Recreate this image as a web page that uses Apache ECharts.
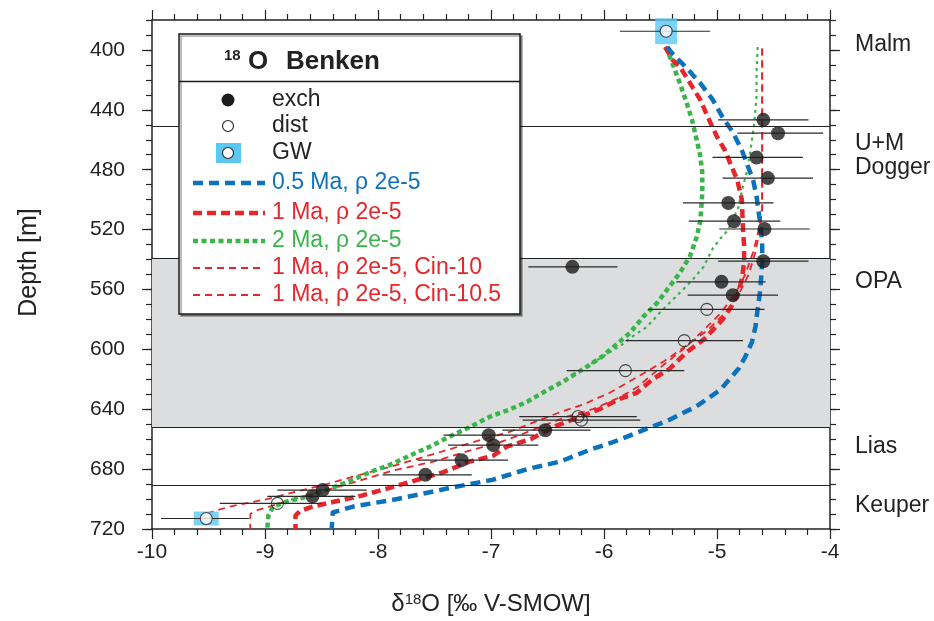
<!DOCTYPE html>
<html>
<head>
<meta charset="utf-8">
<script src="https://cdn.jsdelivr.net/npm/echarts@6/dist/echarts.min.js"></script>
<style>
html,body{margin:0;padding:0;background:#fff;}
#chart{width:934px;height:621px;}
</style>
</head>
<body>
<div id="chart"></div>
<script>
// ---------- DATA ----------
const xTickValues = [-10, -9, -8, -7, -6, -5, -4];
const depthLabelValues = [400, 440, 480, 520, 560, 600, 640, 680, 720];
const formationDepths = [396.7, 470.7, 554.7, 665.3, 704.7];
const formationNames = ['Malm', 'U+M\nDogger', 'OPA', 'Lias', 'Keuper'];
const boundaryDepths = [451, 539, 652, 691];
const opaTop = 539, opaBottom = 652;

// exchange water points
const exchD18O = [-4.59,-4.46,-4.65,-4.55,-4.90,-4.85,-4.58,-4.59,-6.28,-4.96,-4.86,-6.52,-7.02,-6.98,-7.26,-7.58,-8.49,-8.58];
const exchDepth = [446.7,455.6,471.8,485.6,502.2,514.4,519.6,541.1,544.9,554.9,563.8,654.0,657.3,664.0,674.0,683.8,694.0,698.2];
const exchLow  = [-4.99,-4.82,-5.04,-4.95,-5.30,-5.25,-4.98,-4.99,-6.67,-5.36,-5.26,-6.90,-7.42,-7.38,-7.65,-7.96,-8.89,-8.98];
const exchHigh = [-4.19,-4.06,-4.24,-4.15,-4.50,-4.44,-4.18,-4.19,-5.88,-4.57,-4.46,-6.12,-6.62,-6.58,-6.85,-7.17,-8.10,-8.20];

// distillation points
const distD18O = [-5.09,-5.29,-5.81,-6.23,-6.20,-8.89];
const distDepth = [573.3,594.2,614.2,644.9,647.3,702.9];
const distLow  = [-5.61,-5.81,-6.33,-6.75,-6.72,-9.40];
const distHigh = [-4.58,-4.77,-5.29,-5.71,-5.68,-8.50];

// groundwater points
const gwD18O = [-5.45, -9.52];
const gwDepth = [387.5, 713.0];
const gwLow  = [-5.86, -9.92];
const gwHigh = [-5.06, -9.14];

// model curves [d18O, depth]
const curve05Ma = [[-5.44,398],[-5.40,402],[-5.27,412],[-5.15,422],[-5.04,433],[-4.95,445],[-4.86,455],[-4.78,467],[-4.73,477],[-4.68,487],[-4.65,498],[-4.63,509],[-4.61,520],[-4.60,531],[-4.60,542],[-4.61,553],[-4.62,562],[-4.64,573],[-4.66,585],[-4.69,595],[-4.75,605],[-4.81,613],[-4.97,627],[-5.18,638],[-5.42,647],[-5.62,653],[-5.92,662],[-6.12,667],[-6.39,675],[-6.68,680],[-6.98,687],[-7.39,693],[-7.83,700],[-8.22,705],[-8.40,709],[-8.41,720]];
const curve1Ma = [[-5.46,398],[-5.39,407],[-5.33,411],[-5.24,422],[-5.15,433],[-5.08,445],[-5.00,458],[-4.93,467],[-4.87,478],[-4.82,487],[-4.78,500],[-4.77,520],[-4.76,531],[-4.76,542],[-4.78,553],[-4.81,562],[-4.87,571],[-4.95,580],[-5.11,593],[-5.27,602],[-5.42,613],[-5.57,620],[-5.71,629],[-5.86,633],[-6.04,640],[-6.21,645],[-6.42,651],[-6.65,660],[-6.86,665],[-6.98,671],[-7.19,675],[-7.42,682],[-7.69,688],[-7.92,693],[-8.16,698],[-8.40,702],[-8.58,705],[-8.69,708],[-8.73,711],[-8.73,720]];
const curve2Ma = [[-5.45,398],[-5.39,410],[-5.33,422],[-5.27,435],[-5.22,447],[-5.18,460],[-5.15,470],[-5.13,482],[-5.13,495],[-5.14,507],[-5.15,515],[-5.18,525],[-5.24,538],[-5.33,549],[-5.42,558],[-5.53,569],[-5.65,578],[-5.77,589],[-5.88,596],[-6.02,605],[-6.18,613],[-6.35,621],[-6.52,628],[-6.68,635],[-6.83,640],[-7.01,645],[-7.19,652],[-7.36,658],[-7.54,665],[-7.72,671],[-7.89,677],[-8.07,682],[-8.25,688],[-8.42,693],[-8.60,698],[-8.78,701],[-8.93,705],[-8.97,711],[-8.98,720]];
const curve2MaThin = [[-4.64,398],[-4.65,415],[-4.65,431],[-4.67,449],[-4.70,465],[-4.73,480],[-4.77,491],[-4.81,505],[-4.90,520],[-4.97,526],[-5.04,533],[-5.12,545],[-5.21,553],[-5.30,560],[-5.42,569],[-5.50,575],[-5.62,585],[-5.74,591],[-5.86,598],[-5.95,602],[-6.10,609],[-6.28,617]];
const curve1MaCin10 = [[-4.60,399],[-4.60,505],[-4.63,520],[-4.68,535],[-4.75,550],[-4.84,563],[-4.97,576],[-5.13,588],[-5.30,600],[-5.50,612],[-5.70,625],[-5.86,632],[-6.10,640],[-6.33,645],[-6.57,652],[-6.77,658],[-6.92,662],[-7.16,667],[-7.51,675],[-7.87,681],[-8.22,689],[-8.51,695],[-8.75,700],[-8.96,705],[-9.09,708],[-9.13,710],[-9.13,720]];
const curve1MaCin105 = [[-4.60,399],[-4.60,505],[-4.62,520],[-4.66,535],[-4.72,550],[-4.80,562],[-4.92,575],[-5.08,587],[-5.28,598],[-5.47,608],[-5.74,620],[-5.95,629],[-6.19,637],[-6.39,642],[-6.63,649],[-6.83,655],[-7.16,662],[-7.51,670],[-7.87,678],[-8.22,685],[-8.45,690],[-8.72,695],[-8.98,700],[-9.31,705],[-9.49,709],[-9.55,711],[-9.55,720]];

// ---------- STYLE ----------
const BLUE = '#0b72bb', RED = '#e6262b', GREEN = '#3ab54a', CYAN = '#5cc8f2', INK = '#222';
const FONT = 'Liberation Sans, Arial, sans-serif';

function zipPts(xs, ys) { return xs.map((x, i) => [x, ys[i]]); }
function errData(xs, ys, lo, hi) { return xs.map((x, i) => [lo[i], hi[i], ys[i]]); }

const errorBars = [].concat(
  errData(exchD18O, exchDepth, exchLow, exchHigh),
  errData(distD18O, distDepth, distLow, distHigh),
  errData(gwD18O, gwDepth, gwLow, gwHigh)
);
const gwBoxSizes = [[22, 26], [25, 14]];

const chart = echarts.init(document.getElementById('chart'), null, {renderer: 'canvas'});

const axisLineStyle = {color: INK, width: 1.5};
const baseX = {
  type: 'value', min: -10, max: -4, interval: 1,
  axisLine: {show: true, onZero: false, lineStyle: axisLineStyle},
  axisTick: {show: true, inside: false, length: 10, lineStyle: {color: INK, width: 1.2}},
  minorTick: {show: true, splitNumber: 5, length: 6, lineStyle: {color: INK, width: 1.2}},
  splitLine: {show: false}, minorSplitLine: {show: false}
};
const baseY = {
  type: 'value', min: 380, max: 720, inverse: true,
  splitLine: {show: false}
};

const lineSeries = (name, data, color, width, dash, z) => ({
  name, type: 'line', data, showSymbol: false, symbol: 'none', smooth: false,
  z: z || 3, silent: true, animation: false,
  lineStyle: {color, width, type: dash, cap: 'butt', join: 'round'}
});

const LZ = 100;
const lt = (x, y, text, color, size, extra) => Object.assign({
  type: 'text', x, y, z: LZ + 2,
  style: Object.assign({text, fontSize: size || 23, fill: color || INK, fontFamily: FONT, verticalAlign: 'middle'}, extra || {})
});
const ll = (y, color, width, dash) => ({
  type: 'line', z: LZ + 2, shape: {x1: 193, y1: y, x2: 265, y2: y},
  style: {stroke: color, lineWidth: width, lineDash: dash}
});

const option = {
  animation: false,
  backgroundColor: '#fff',
  textStyle: {fontFamily: FONT},
  grid: {left: 152, right: 104, top: 20, bottom: 91, containLabel: false},
  xAxis: [
    Object.assign({}, baseX, {
      position: 'bottom',
      axisLabel: {show: true, fontSize: 21, color: INK, margin: 13, fontFamily: FONT,
        formatter: v => xTickValues.includes(v) ? String(v) : ''},
      name: '{a|δ}{s|18}{a|O [‰ V-SMOW]}', nameLocation: 'middle', nameGap: 63,
      nameTextStyle: {rich: {a: {fontSize: 24, color: INK, fontFamily: FONT},
        s: {fontSize: 15, color: INK, fontFamily: FONT, verticalAlign: 'top', padding: [0,0,8,0]}}}
    }),
    Object.assign({}, baseX, {position: 'top', axisLabel: {show: false}})
  ],
  yAxis: [
    Object.assign({}, baseY, {
      position: 'left', interval: 10,
      axisLine: {show: true, onZero: false, lineStyle: axisLineStyle},
      axisTick: {show: true, inside: false, length: 6, lineStyle: {color: INK, width: 1.2}},
      axisLabel: {show: true, customValues: depthLabelValues, fontSize: 21, color: INK, margin: 27, fontFamily: FONT},
      name: 'Depth [m]', nameLocation: 'middle', nameGap: 110, nameRotate: 90,
      nameTextStyle: {fontSize: 25, color: INK, fontFamily: FONT, padding: [0, 0, 0, 24]}
    }),
    Object.assign({}, baseY, {
      position: 'left', offset: 0,
      axisLine: {show: false},
      axisTick: {show: true, inside: false, length: 10, customValues: depthLabelValues, lineStyle: {color: INK, width: 1.2}},
      axisLabel: {show: false}
    }),
    Object.assign({}, baseY, {
      position: 'right', interval: 10, offset: 0,
      axisLine: {show: true, onZero: false, lineStyle: axisLineStyle},
      axisTick: {show: true, inside: false, length: 6, lineStyle: {color: INK, width: 1.2}},
      axisLabel: {show: true, customValues: formationDepths, fontSize: 23, color: INK, margin: 25,
        lineHeight: 24, fontFamily: FONT,
        formatter: v => formationNames[formationDepths.indexOf(v)] || ''}
    }),
    Object.assign({}, baseY, {
      position: 'right', offset: 0,
      axisLine: {show: false},
      axisTick: {show: true, inside: false, length: 10, customValues: depthLabelValues, lineStyle: {color: INK, width: 1.2}},
      axisLabel: {show: false}
    })
  ],
  series: [
    {
      name: 'layers', type: 'line', data: [[-10, 380]], symbol: 'none', showSymbol: false,
      lineStyle: {width: 0}, z: 1, silent: true,
      markArea: {silent: true, itemStyle: {color: '#dcdddf'}, data: [[{yAxis: opaTop}, {yAxis: opaBottom}]]},
      markLine: {silent: true, symbol: ['none', 'none'], label: {show: false},
        lineStyle: {color: INK, width: 1.2, type: 'solid'},
        data: boundaryDepths.map(d => ({yAxis: d}))}
    },
    lineSeries('2 Ma thin', curve2MaThin, GREEN, 2.2, [3, 4]),
    lineSeries('1 Ma Cin-10', curve1MaCin10, RED, 1.8, [7, 5]),
    lineSeries('1 Ma Cin-10.5', curve1MaCin105, RED, 1.8, [7, 5]),
    lineSeries('2 Ma', curve2Ma, GREEN, 4.5, [5, 3.5]),
    lineSeries('1 Ma', curve1Ma, RED, 4.5, [9, 5]),
    lineSeries('0.5 Ma', curve05Ma, BLUE, 4.5, [10, 6]),
    {
      name: 'GW box', type: 'scatter', z: 5, silent: true,
      data: zipPts(gwD18O, gwDepth).map((p, i) => ({value: p, symbolSize: gwBoxSizes[i]})),
      symbol: 'rect', itemStyle: {color: CYAN}
    },
    {
      name: 'errors', type: 'custom', z: 6, silent: true,
      data: errorBars,
      encode: {x: [0, 1], y: 2},
      renderItem: function (params, api) {
        const a = api.coord([api.value(0), api.value(2)]);
        const b = api.coord([api.value(1), api.value(2)]);
        return {type: 'line', shape: {x1: a[0], y1: a[1], x2: b[0], y2: b[1]},
          style: {stroke: '#2a2a2a', lineWidth: 1.2}};
      }
    },
    {
      name: 'exch', type: 'scatter', z: 7, silent: true,
      data: zipPts(exchD18O, exchDepth), symbol: 'circle', symbolSize: 14,
      itemStyle: {color: '#1c1c1c'}
    },
    {
      name: 'dist', type: 'scatter', z: 7, silent: true,
      data: zipPts(distD18O, distDepth), symbol: 'circle', symbolSize: 12,
      itemStyle: {color: 'rgba(255,255,255,0)', borderColor: '#222', borderWidth: 1.1}
    },
    {
      name: 'GW', type: 'scatter', z: 8, silent: true,
      data: zipPts(gwD18O, gwDepth), symbol: 'circle', symbolSize: 12,
      itemStyle: {color: '#fff', borderColor: '#222', borderWidth: 1.1}
    }
  ],
  graphic: [
    {type: 'rect', z: LZ, silent: true, shape: {x: 179, y: 34, width: 341, height: 280},
      style: {fill: '#fff', stroke: '#1a1a1a', lineWidth: 1.5,
        shadowColor: 'rgba(0,0,0,0.35)', shadowOffsetX: 2, shadowOffsetY: 2, shadowBlur: 0}},
    {type: 'line', z: LZ + 1, silent: true, shape: {x1: 179, y1: 81.5, x2: 520, y2: 81.5}, style: {stroke: '#1a1a1a', lineWidth: 1.3}},
    lt(224, 56, '18', INK, 15, {fontWeight: 'bold'}),
    lt(248, 62, 'O', INK, 26, {fontWeight: 'bold'}),
    lt(286, 62, 'Benken', INK, 26, {fontWeight: 'bold'}),
    {type: 'circle', z: LZ + 2, shape: {cx: 228, cy: 100, r: 6.5}, style: {fill: '#1c1c1c'}},
    lt(272, 100, 'exch'),
    {type: 'circle', z: LZ + 2, shape: {cx: 228, cy: 126, r: 5.5}, style: {fill: '#fff', stroke: '#222', lineWidth: 1.1}},
    lt(272, 126, 'dist'),
    {type: 'rect', z: LZ + 2, shape: {x: 216, y: 143, width: 25, height: 20}, style: {fill: CYAN}},
    {type: 'circle', z: LZ + 3, shape: {cx: 228, cy: 153, r: 5.5}, style: {fill: '#fff', stroke: '#222', lineWidth: 1.1}},
    lt(272, 153, 'GW'),
    ll(183, BLUE, 4.5, [10, 6]),
    lt(272, 183, '0.5 Ma, ρ 2e-5', BLUE),
    ll(213, RED, 4.5, [9, 5]),
    lt(272, 213, '1 Ma, ρ 2e-5', RED),
    ll(241, GREEN, 4.5, [5, 3.5]),
    lt(272, 241, '2 Ma, ρ 2e-5', GREEN),
    ll(268, RED, 1.8, [7, 5]),
    lt(272, 268, '1 Ma, ρ 2e-5, Cin-10', RED),
    ll(295, RED, 1.8, [7, 5]),
    lt(272, 295, '1 Ma, ρ 2e-5, Cin-10.5', RED)
  ]
};
chart.setOption(option);
</script>
</body>
</html>
